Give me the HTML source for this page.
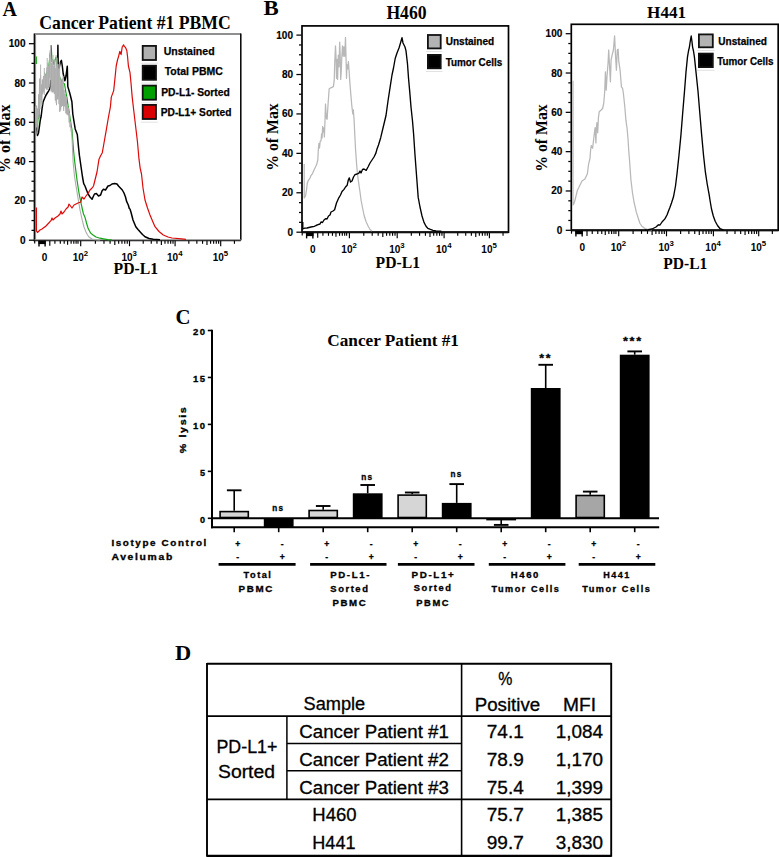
<!DOCTYPE html>
<html><head><meta charset="utf-8"><style>
html,body{margin:0;padding:0;background:#fff;width:779px;height:857px;overflow:hidden}
svg{display:block}
</style></head><body>
<svg width="779" height="857" viewBox="0 0 779 857">
<rect width="779" height="857" fill="#fff"/>
<line x1="34.5" y1="34.1" x2="240.8" y2="34.1" stroke="#6a6a6a" stroke-width="1.5"/>
<line x1="240.8" y1="33.4" x2="240.8" y2="240.2" stroke="#000" stroke-width="1.5"/>
<line x1="35.5" y1="34.1" x2="35.5" y2="240.2" stroke="#8a8a8a" stroke-width="1.2"/>
<line x1="34.3" y1="33.4" x2="34.3" y2="241.2" stroke="#000" stroke-width="1.3"/>
<line x1="34.5" y1="240.0" x2="240.8" y2="240.0" stroke="#8a8a8a" stroke-width="1.3"/>
<line x1="33.7" y1="240.79999999999998" x2="240.8" y2="240.79999999999998" stroke="#111" stroke-width="1.1"/>
<line x1="28.9" y1="240.2" x2="34.0" y2="240.2" stroke="#000" stroke-width="1.25"/>
<text x="25.5" y="243.7" style="font-family:'Liberation Sans',sans-serif;font-weight:bold;font-size:10.0px" text-anchor="end" fill="#000" stroke="#000" stroke-width="0.15">0</text>
<line x1="31.499999999999996" y1="230.375" x2="34.0" y2="230.375" stroke="#000" stroke-width="1.25"/>
<line x1="31.499999999999996" y1="220.54999999999998" x2="34.0" y2="220.54999999999998" stroke="#000" stroke-width="1.25"/>
<line x1="31.499999999999996" y1="210.725" x2="34.0" y2="210.725" stroke="#000" stroke-width="1.25"/>
<line x1="28.9" y1="200.89999999999998" x2="34.0" y2="200.89999999999998" stroke="#000" stroke-width="1.25"/>
<text x="25.5" y="204.39999999999998" style="font-family:'Liberation Sans',sans-serif;font-weight:bold;font-size:10.0px" text-anchor="end" fill="#000" stroke="#000" stroke-width="0.15">20</text>
<line x1="31.499999999999996" y1="191.075" x2="34.0" y2="191.075" stroke="#000" stroke-width="1.25"/>
<line x1="31.499999999999996" y1="181.25" x2="34.0" y2="181.25" stroke="#000" stroke-width="1.25"/>
<line x1="31.499999999999996" y1="171.42499999999998" x2="34.0" y2="171.42499999999998" stroke="#000" stroke-width="1.25"/>
<line x1="28.9" y1="161.59999999999997" x2="34.0" y2="161.59999999999997" stroke="#000" stroke-width="1.25"/>
<text x="25.5" y="165.09999999999997" style="font-family:'Liberation Sans',sans-serif;font-weight:bold;font-size:10.0px" text-anchor="end" fill="#000" stroke="#000" stroke-width="0.15">40</text>
<line x1="31.499999999999996" y1="151.77499999999998" x2="34.0" y2="151.77499999999998" stroke="#000" stroke-width="1.25"/>
<line x1="31.499999999999996" y1="141.95" x2="34.0" y2="141.95" stroke="#000" stroke-width="1.25"/>
<line x1="31.499999999999996" y1="132.125" x2="34.0" y2="132.125" stroke="#000" stroke-width="1.25"/>
<line x1="28.9" y1="122.29999999999998" x2="34.0" y2="122.29999999999998" stroke="#000" stroke-width="1.25"/>
<text x="25.5" y="125.79999999999998" style="font-family:'Liberation Sans',sans-serif;font-weight:bold;font-size:10.0px" text-anchor="end" fill="#000" stroke="#000" stroke-width="0.15">60</text>
<line x1="31.499999999999996" y1="112.47499999999998" x2="34.0" y2="112.47499999999998" stroke="#000" stroke-width="1.25"/>
<line x1="31.499999999999996" y1="102.64999999999998" x2="34.0" y2="102.64999999999998" stroke="#000" stroke-width="1.25"/>
<line x1="31.499999999999996" y1="92.82499999999999" x2="34.0" y2="92.82499999999999" stroke="#000" stroke-width="1.25"/>
<line x1="28.9" y1="82.99999999999997" x2="34.0" y2="82.99999999999997" stroke="#000" stroke-width="1.25"/>
<text x="25.5" y="86.49999999999997" style="font-family:'Liberation Sans',sans-serif;font-weight:bold;font-size:10.0px" text-anchor="end" fill="#000" stroke="#000" stroke-width="0.15">80</text>
<line x1="31.499999999999996" y1="73.17499999999998" x2="34.0" y2="73.17499999999998" stroke="#000" stroke-width="1.25"/>
<line x1="31.499999999999996" y1="63.349999999999994" x2="34.0" y2="63.349999999999994" stroke="#000" stroke-width="1.25"/>
<line x1="31.499999999999996" y1="53.52499999999998" x2="34.0" y2="53.52499999999998" stroke="#000" stroke-width="1.25"/>
<line x1="28.9" y1="43.69999999999999" x2="34.0" y2="43.69999999999999" stroke="#000" stroke-width="1.25"/>
<text x="25.5" y="47.19999999999999" style="font-family:'Liberation Sans',sans-serif;font-weight:bold;font-size:10.0px" text-anchor="end" fill="#000" stroke="#000" stroke-width="0.15">100</text>
<line x1="34.7" y1="240.7" x2="34.7" y2="243.6" stroke="#000" stroke-width="1.15"/>
<line x1="49.8" y1="240.7" x2="49.8" y2="245.79999999999998" stroke="#000" stroke-width="1.15"/>
<line x1="54.9" y1="240.7" x2="54.9" y2="243.79999999999998" stroke="#000" stroke-width="1.15"/>
<line x1="60.3" y1="240.7" x2="60.3" y2="243.79999999999998" stroke="#000" stroke-width="1.15"/>
<line x1="64.2" y1="240.7" x2="64.2" y2="243.79999999999998" stroke="#000" stroke-width="1.15"/>
<line x1="67.6" y1="240.7" x2="67.6" y2="244.79999999999998" stroke="#000" stroke-width="1.15"/>
<line x1="71.1" y1="240.7" x2="71.1" y2="243.79999999999998" stroke="#000" stroke-width="1.15"/>
<line x1="73.8" y1="240.7" x2="73.8" y2="243.79999999999998" stroke="#000" stroke-width="1.15"/>
<line x1="76.1" y1="240.7" x2="76.1" y2="243.79999999999998" stroke="#000" stroke-width="1.15"/>
<line x1="78.0" y1="240.7" x2="78.0" y2="243.79999999999998" stroke="#000" stroke-width="1.15"/>
<line x1="80.7" y1="240.7" x2="80.7" y2="246.2" stroke="#000" stroke-width="1.15"/>
<line x1="95.39026378840228" y1="240.7" x2="95.39026378840228" y2="243.79999999999998" stroke="#000" stroke-width="1.15"/>
<line x1="103.98351723031953" y1="240.7" x2="103.98351723031953" y2="243.79999999999998" stroke="#000" stroke-width="1.15"/>
<line x1="110.08052757680457" y1="240.7" x2="110.08052757680457" y2="243.79999999999998" stroke="#000" stroke-width="1.15"/>
<line x1="114.80973621159772" y1="240.7" x2="114.80973621159772" y2="245.0" stroke="#000" stroke-width="1.15"/>
<line x1="118.67378101872181" y1="240.7" x2="118.67378101872181" y2="243.79999999999998" stroke="#000" stroke-width="1.15"/>
<line x1="121.94078435269573" y1="240.7" x2="121.94078435269573" y2="243.79999999999998" stroke="#000" stroke-width="1.15"/>
<line x1="124.77079136520685" y1="240.7" x2="124.77079136520685" y2="243.79999999999998" stroke="#000" stroke-width="1.15"/>
<line x1="127.26703446063905" y1="240.7" x2="127.26703446063905" y2="243.79999999999998" stroke="#000" stroke-width="1.15"/>
<line x1="129.5" y1="240.7" x2="129.5" y2="246.2" stroke="#000" stroke-width="1.15"/>
<line x1="143.22696780227756" y1="240.7" x2="143.22696780227756" y2="243.79999999999998" stroke="#000" stroke-width="1.15"/>
<line x1="151.2567292152166" y1="240.7" x2="151.2567292152166" y2="243.79999999999998" stroke="#000" stroke-width="1.15"/>
<line x1="156.95393560455508" y1="240.7" x2="156.95393560455508" y2="243.79999999999998" stroke="#000" stroke-width="1.15"/>
<line x1="161.37303219772247" y1="240.7" x2="161.37303219772247" y2="245.0" stroke="#000" stroke-width="1.15"/>
<line x1="164.98369701749414" y1="240.7" x2="164.98369701749414" y2="243.79999999999998" stroke="#000" stroke-width="1.15"/>
<line x1="168.03647062465012" y1="240.7" x2="168.03647062465012" y2="243.79999999999998" stroke="#000" stroke-width="1.15"/>
<line x1="170.6809034068326" y1="240.7" x2="170.6809034068326" y2="243.79999999999998" stroke="#000" stroke-width="1.15"/>
<line x1="173.01345843043322" y1="240.7" x2="173.01345843043322" y2="243.79999999999998" stroke="#000" stroke-width="1.15"/>
<line x1="175.1" y1="240.7" x2="175.1" y2="246.2" stroke="#000" stroke-width="1.15"/>
<line x1="188.82696780227752" y1="240.7" x2="188.82696780227752" y2="243.79999999999998" stroke="#000" stroke-width="1.15"/>
<line x1="196.8567292152166" y1="240.7" x2="196.8567292152166" y2="243.79999999999998" stroke="#000" stroke-width="1.15"/>
<line x1="202.55393560455508" y1="240.7" x2="202.55393560455508" y2="243.79999999999998" stroke="#000" stroke-width="1.15"/>
<line x1="206.97303219772246" y1="240.7" x2="206.97303219772246" y2="245.0" stroke="#000" stroke-width="1.15"/>
<line x1="210.58369701749413" y1="240.7" x2="210.58369701749413" y2="243.79999999999998" stroke="#000" stroke-width="1.15"/>
<line x1="213.6364706246501" y1="240.7" x2="213.6364706246501" y2="243.79999999999998" stroke="#000" stroke-width="1.15"/>
<line x1="216.2809034068326" y1="240.7" x2="216.2809034068326" y2="243.79999999999998" stroke="#000" stroke-width="1.15"/>
<line x1="218.6134584304332" y1="240.7" x2="218.6134584304332" y2="243.79999999999998" stroke="#000" stroke-width="1.15"/>
<line x1="220.7" y1="240.7" x2="220.7" y2="246.2" stroke="#000" stroke-width="1.15"/>
<line x1="234.42696780227752" y1="240.7" x2="234.42696780227752" y2="243.79999999999998" stroke="#000" stroke-width="1.15"/>
<rect x="38.5" y="240.7" width="7.2" height="3.4" fill="#000"/>
<line x1="39.0" y1="240.7" x2="39.0" y2="246.39999999999998" stroke="#000" stroke-width="1.4"/>
<line x1="45.1" y1="240.7" x2="45.1" y2="246.39999999999998" stroke="#000" stroke-width="1.4"/>
<text x="44.5" y="260.59999999999997" style="font-family:'Liberation Sans',sans-serif;font-weight:bold;font-size:10px" text-anchor="middle" fill="#000" >0</text>
<text x="80.4" y="260.59999999999997" style="font-family:'Liberation Sans',sans-serif;font-weight:bold;font-size:10px" text-anchor="middle">10<tspan dy="-4.6" style="font-size:7.8px">2</tspan></text>
<text x="129.2" y="260.59999999999997" style="font-family:'Liberation Sans',sans-serif;font-weight:bold;font-size:10px" text-anchor="middle">10<tspan dy="-4.6" style="font-size:7.8px">3</tspan></text>
<text x="174.79999999999998" y="260.59999999999997" style="font-family:'Liberation Sans',sans-serif;font-weight:bold;font-size:10px" text-anchor="middle">10<tspan dy="-4.6" style="font-size:7.8px">4</tspan></text>
<text x="220.39999999999998" y="260.59999999999997" style="font-family:'Liberation Sans',sans-serif;font-weight:bold;font-size:10px" text-anchor="middle">10<tspan dy="-4.6" style="font-size:7.8px">5</tspan></text>
<text x="2.5" y="15.6" style="font-family:'Liberation Serif',serif;font-weight:bold;font-size:20px" text-anchor="start" fill="#000" >A</text>
<text x="39.3" y="28.9" style="font-family:'Liberation Serif',serif;font-weight:bold;font-size:17.8px" text-anchor="start" textLength="191.5" lengthAdjust="spacingAndGlyphs" fill="#000" >Cancer Patient #1 PBMC</text>
<text x="10.2" y="138.8" style="font-family:'Liberation Serif',serif;font-weight:bold;font-size:16px" text-anchor="middle" textLength="68.5" lengthAdjust="spacingAndGlyphs" fill="#000" transform="rotate(-90 10.2 138.8)">% of Max</text>
<text x="135.9" y="274.2" style="font-family:'Liberation Serif',serif;font-weight:bold;font-size:15.8px" text-anchor="middle" textLength="44.6" lengthAdjust="spacingAndGlyphs" fill="#000" >PD-L1</text>
<rect x="302.0" y="25.9" width="206.5" height="206.29999999999998" fill="none" stroke="#000" stroke-width="1.7"/>
<line x1="302.0" y1="232.2" x2="508.5" y2="232.2" stroke="#111" stroke-width="1.9"/>
<line x1="296.4" y1="232.2" x2="301.5" y2="232.2" stroke="#000" stroke-width="1.25"/>
<text x="293.0" y="235.7" style="font-family:'Liberation Sans',sans-serif;font-weight:bold;font-size:10.0px" text-anchor="end" fill="#000" stroke="#000" stroke-width="0.15">0</text>
<line x1="299.0" y1="222.345" x2="301.5" y2="222.345" stroke="#000" stroke-width="1.25"/>
<line x1="299.0" y1="212.48999999999998" x2="301.5" y2="212.48999999999998" stroke="#000" stroke-width="1.25"/>
<line x1="299.0" y1="202.635" x2="301.5" y2="202.635" stroke="#000" stroke-width="1.25"/>
<line x1="296.4" y1="192.78" x2="301.5" y2="192.78" stroke="#000" stroke-width="1.25"/>
<text x="293.0" y="196.28" style="font-family:'Liberation Sans',sans-serif;font-weight:bold;font-size:10.0px" text-anchor="end" fill="#000" stroke="#000" stroke-width="0.15">20</text>
<line x1="299.0" y1="182.92499999999998" x2="301.5" y2="182.92499999999998" stroke="#000" stroke-width="1.25"/>
<line x1="299.0" y1="173.07" x2="301.5" y2="173.07" stroke="#000" stroke-width="1.25"/>
<line x1="299.0" y1="163.21499999999997" x2="301.5" y2="163.21499999999997" stroke="#000" stroke-width="1.25"/>
<line x1="296.4" y1="153.36" x2="301.5" y2="153.36" stroke="#000" stroke-width="1.25"/>
<text x="293.0" y="156.86" style="font-family:'Liberation Sans',sans-serif;font-weight:bold;font-size:10.0px" text-anchor="end" fill="#000" stroke="#000" stroke-width="0.15">40</text>
<line x1="299.0" y1="143.505" x2="301.5" y2="143.505" stroke="#000" stroke-width="1.25"/>
<line x1="299.0" y1="133.64999999999998" x2="301.5" y2="133.64999999999998" stroke="#000" stroke-width="1.25"/>
<line x1="299.0" y1="123.795" x2="301.5" y2="123.795" stroke="#000" stroke-width="1.25"/>
<line x1="296.4" y1="113.94" x2="301.5" y2="113.94" stroke="#000" stroke-width="1.25"/>
<text x="293.0" y="117.44" style="font-family:'Liberation Sans',sans-serif;font-weight:bold;font-size:10.0px" text-anchor="end" fill="#000" stroke="#000" stroke-width="0.15">60</text>
<line x1="299.0" y1="104.08500000000001" x2="301.5" y2="104.08500000000001" stroke="#000" stroke-width="1.25"/>
<line x1="299.0" y1="94.22999999999999" x2="301.5" y2="94.22999999999999" stroke="#000" stroke-width="1.25"/>
<line x1="299.0" y1="84.375" x2="301.5" y2="84.375" stroke="#000" stroke-width="1.25"/>
<line x1="296.4" y1="74.52000000000001" x2="301.5" y2="74.52000000000001" stroke="#000" stroke-width="1.25"/>
<text x="293.0" y="78.02000000000001" style="font-family:'Liberation Sans',sans-serif;font-weight:bold;font-size:10.0px" text-anchor="end" fill="#000" stroke="#000" stroke-width="0.15">80</text>
<line x1="299.0" y1="64.66499999999999" x2="301.5" y2="64.66499999999999" stroke="#000" stroke-width="1.25"/>
<line x1="299.0" y1="54.81" x2="301.5" y2="54.81" stroke="#000" stroke-width="1.25"/>
<line x1="299.0" y1="44.95500000000001" x2="301.5" y2="44.95500000000001" stroke="#000" stroke-width="1.25"/>
<line x1="296.4" y1="35.099999999999994" x2="301.5" y2="35.099999999999994" stroke="#000" stroke-width="1.25"/>
<text x="293.0" y="38.599999999999994" style="font-family:'Liberation Sans',sans-serif;font-weight:bold;font-size:10.0px" text-anchor="end" fill="#000" stroke="#000" stroke-width="0.15">100</text>
<line x1="302.2" y1="232.7" x2="302.2" y2="235.6" stroke="#000" stroke-width="1.15"/>
<line x1="317.6974025974026" y1="232.7" x2="317.6974025974026" y2="237.79999999999998" stroke="#000" stroke-width="1.15"/>
<line x1="322.92987012987015" y1="232.7" x2="322.92987012987015" y2="235.79999999999998" stroke="#000" stroke-width="1.15"/>
<line x1="328.4701298701299" y1="232.7" x2="328.4701298701299" y2="235.79999999999998" stroke="#000" stroke-width="1.15"/>
<line x1="332.4714285714286" y1="232.7" x2="332.4714285714286" y2="235.79999999999998" stroke="#000" stroke-width="1.15"/>
<line x1="335.9597402597403" y1="232.7" x2="335.9597402597403" y2="236.79999999999998" stroke="#000" stroke-width="1.15"/>
<line x1="339.55064935064934" y1="232.7" x2="339.55064935064934" y2="235.79999999999998" stroke="#000" stroke-width="1.15"/>
<line x1="342.32077922077923" y1="232.7" x2="342.32077922077923" y2="235.79999999999998" stroke="#000" stroke-width="1.15"/>
<line x1="344.6805194805195" y1="232.7" x2="344.6805194805195" y2="235.79999999999998" stroke="#000" stroke-width="1.15"/>
<line x1="346.62987012987014" y1="232.7" x2="346.62987012987014" y2="235.79999999999998" stroke="#000" stroke-width="1.15"/>
<line x1="349.4" y1="232.7" x2="349.4" y2="238.2" stroke="#000" stroke-width="1.15"/>
<line x1="363.7892337927383" y1="232.7" x2="363.7892337927383" y2="235.79999999999998" stroke="#000" stroke-width="1.15"/>
<line x1="372.2063959755999" y1="232.7" x2="372.2063959755999" y2="235.79999999999998" stroke="#000" stroke-width="1.15"/>
<line x1="378.1784675854766" y1="232.7" x2="378.1784675854766" y2="235.79999999999998" stroke="#000" stroke-width="1.15"/>
<line x1="382.81076620726174" y1="232.7" x2="382.81076620726174" y2="237.0" stroke="#000" stroke-width="1.15"/>
<line x1="386.5956297683382" y1="232.7" x2="386.5956297683382" y2="235.79999999999998" stroke="#000" stroke-width="1.15"/>
<line x1="389.7956863126815" y1="232.7" x2="389.7956863126815" y2="235.79999999999998" stroke="#000" stroke-width="1.15"/>
<line x1="392.5677013782149" y1="232.7" x2="392.5677013782149" y2="235.79999999999998" stroke="#000" stroke-width="1.15"/>
<line x1="395.01279195119974" y1="232.7" x2="395.01279195119974" y2="235.79999999999998" stroke="#000" stroke-width="1.15"/>
<line x1="397.2" y1="232.7" x2="397.2" y2="238.2" stroke="#000" stroke-width="1.15"/>
<line x1="411.31830679664074" y1="232.7" x2="411.31830679664074" y2="235.79999999999998" stroke="#000" stroke-width="1.15"/>
<line x1="419.57698684635216" y1="232.7" x2="419.57698684635216" y2="235.79999999999998" stroke="#000" stroke-width="1.15"/>
<line x1="425.43661359328144" y1="232.7" x2="425.43661359328144" y2="235.79999999999998" stroke="#000" stroke-width="1.15"/>
<line x1="429.98169320335927" y1="232.7" x2="429.98169320335927" y2="237.0" stroke="#000" stroke-width="1.15"/>
<line x1="433.69529364299285" y1="232.7" x2="433.69529364299285" y2="235.79999999999998" stroke="#000" stroke-width="1.15"/>
<line x1="436.83509807666866" y1="232.7" x2="436.83509807666866" y2="235.79999999999998" stroke="#000" stroke-width="1.15"/>
<line x1="439.55492038992213" y1="232.7" x2="439.55492038992213" y2="235.79999999999998" stroke="#000" stroke-width="1.15"/>
<line x1="441.9539736927043" y1="232.7" x2="441.9539736927043" y2="235.79999999999998" stroke="#000" stroke-width="1.15"/>
<line x1="444.1" y1="232.7" x2="444.1" y2="238.2" stroke="#000" stroke-width="1.15"/>
<line x1="457.73665880357834" y1="232.7" x2="457.73665880357834" y2="235.79999999999998" stroke="#000" stroke-width="1.15"/>
<line x1="465.7135928388007" y1="232.7" x2="465.7135928388007" y2="235.79999999999998" stroke="#000" stroke-width="1.15"/>
<line x1="471.3733176071567" y1="232.7" x2="471.3733176071567" y2="235.79999999999998" stroke="#000" stroke-width="1.15"/>
<line x1="475.76334119642166" y1="232.7" x2="475.76334119642166" y2="237.0" stroke="#000" stroke-width="1.15"/>
<line x1="479.350251642379" y1="232.7" x2="479.350251642379" y2="235.79999999999998" stroke="#000" stroke-width="1.15"/>
<line x1="482.38294121264585" y1="232.7" x2="482.38294121264585" y2="235.79999999999998" stroke="#000" stroke-width="1.15"/>
<line x1="485.009976410735" y1="232.7" x2="485.009976410735" y2="235.79999999999998" stroke="#000" stroke-width="1.15"/>
<line x1="487.3271856776014" y1="232.7" x2="487.3271856776014" y2="235.79999999999998" stroke="#000" stroke-width="1.15"/>
<line x1="489.4" y1="232.7" x2="489.4" y2="238.2" stroke="#000" stroke-width="1.15"/>
<line x1="503.03665880357835" y1="232.7" x2="503.03665880357835" y2="235.79999999999998" stroke="#000" stroke-width="1.15"/>
<rect x="306.1038961038961" y="232.7" width="7.387012987012987" height="3.4" fill="#000"/>
<line x1="306.6168831168831" y1="232.7" x2="306.6168831168831" y2="238.39999999999998" stroke="#000" stroke-width="1.4"/>
<line x1="312.8753246753247" y1="232.7" x2="312.8753246753247" y2="238.39999999999998" stroke="#000" stroke-width="1.4"/>
<text x="312.8597402597403" y="252.6" style="font-family:'Liberation Sans',sans-serif;font-weight:bold;font-size:10px" text-anchor="middle" fill="#000" >0</text>
<text x="349.09999999999997" y="252.6" style="font-family:'Liberation Sans',sans-serif;font-weight:bold;font-size:10px" text-anchor="middle">10<tspan dy="-4.6" style="font-size:7.8px">2</tspan></text>
<text x="396.9" y="252.6" style="font-family:'Liberation Sans',sans-serif;font-weight:bold;font-size:10px" text-anchor="middle">10<tspan dy="-4.6" style="font-size:7.8px">3</tspan></text>
<text x="443.8" y="252.6" style="font-family:'Liberation Sans',sans-serif;font-weight:bold;font-size:10px" text-anchor="middle">10<tspan dy="-4.6" style="font-size:7.8px">4</tspan></text>
<text x="489.09999999999997" y="252.6" style="font-family:'Liberation Sans',sans-serif;font-weight:bold;font-size:10px" text-anchor="middle">10<tspan dy="-4.6" style="font-size:7.8px">5</tspan></text>
<text x="263.5" y="15.4" style="font-family:'Liberation Serif',serif;font-weight:bold;font-size:20.5px" text-anchor="start" textLength="15.2" lengthAdjust="spacingAndGlyphs" fill="#000" >B</text>
<text x="406.5" y="18.9" style="font-family:'Liberation Serif',serif;font-weight:bold;font-size:18.5px" text-anchor="middle" textLength="40.2" lengthAdjust="spacingAndGlyphs" fill="#000" >H460</text>
<text x="277.7" y="137" style="font-family:'Liberation Serif',serif;font-weight:bold;font-size:16.5px" text-anchor="middle" textLength="67.5" lengthAdjust="spacingAndGlyphs" fill="#000" transform="rotate(-90 277.7 137)">% of Max</text>
<text x="397.8" y="267.8" style="font-family:'Liberation Serif',serif;font-weight:bold;font-size:16.2px" text-anchor="middle" textLength="44.4" lengthAdjust="spacingAndGlyphs" fill="#000" >PD-L1</text>
<rect x="571.3" y="24.3" width="206.9000000000001" height="206.0" fill="none" stroke="#000" stroke-width="1.7"/>
<line x1="571.3" y1="230.3" x2="778.2" y2="230.3" stroke="#111" stroke-width="1.9"/>
<line x1="565.7" y1="230.3" x2="570.8" y2="230.3" stroke="#000" stroke-width="1.25"/>
<text x="562.3" y="233.8" style="font-family:'Liberation Sans',sans-serif;font-weight:bold;font-size:10.0px" text-anchor="end" fill="#000" stroke="#000" stroke-width="0.15">0</text>
<line x1="568.3" y1="220.47" x2="570.8" y2="220.47" stroke="#000" stroke-width="1.25"/>
<line x1="568.3" y1="210.64000000000001" x2="570.8" y2="210.64000000000001" stroke="#000" stroke-width="1.25"/>
<line x1="568.3" y1="200.81" x2="570.8" y2="200.81" stroke="#000" stroke-width="1.25"/>
<line x1="565.7" y1="190.98000000000002" x2="570.8" y2="190.98000000000002" stroke="#000" stroke-width="1.25"/>
<text x="562.3" y="194.48000000000002" style="font-family:'Liberation Sans',sans-serif;font-weight:bold;font-size:10.0px" text-anchor="end" fill="#000" stroke="#000" stroke-width="0.15">20</text>
<line x1="568.3" y1="181.15" x2="570.8" y2="181.15" stroke="#000" stroke-width="1.25"/>
<line x1="568.3" y1="171.32" x2="570.8" y2="171.32" stroke="#000" stroke-width="1.25"/>
<line x1="568.3" y1="161.49" x2="570.8" y2="161.49" stroke="#000" stroke-width="1.25"/>
<line x1="565.7" y1="151.66" x2="570.8" y2="151.66" stroke="#000" stroke-width="1.25"/>
<text x="562.3" y="155.16" style="font-family:'Liberation Sans',sans-serif;font-weight:bold;font-size:10.0px" text-anchor="end" fill="#000" stroke="#000" stroke-width="0.15">40</text>
<line x1="568.3" y1="141.82999999999998" x2="570.8" y2="141.82999999999998" stroke="#000" stroke-width="1.25"/>
<line x1="568.3" y1="132.0" x2="570.8" y2="132.0" stroke="#000" stroke-width="1.25"/>
<line x1="568.3" y1="122.17" x2="570.8" y2="122.17" stroke="#000" stroke-width="1.25"/>
<line x1="565.7" y1="112.34" x2="570.8" y2="112.34" stroke="#000" stroke-width="1.25"/>
<text x="562.3" y="115.84" style="font-family:'Liberation Sans',sans-serif;font-weight:bold;font-size:10.0px" text-anchor="end" fill="#000" stroke="#000" stroke-width="0.15">60</text>
<line x1="568.3" y1="102.51" x2="570.8" y2="102.51" stroke="#000" stroke-width="1.25"/>
<line x1="568.3" y1="92.68" x2="570.8" y2="92.68" stroke="#000" stroke-width="1.25"/>
<line x1="568.3" y1="82.85" x2="570.8" y2="82.85" stroke="#000" stroke-width="1.25"/>
<line x1="565.7" y1="73.01999999999998" x2="570.8" y2="73.01999999999998" stroke="#000" stroke-width="1.25"/>
<text x="562.3" y="76.51999999999998" style="font-family:'Liberation Sans',sans-serif;font-weight:bold;font-size:10.0px" text-anchor="end" fill="#000" stroke="#000" stroke-width="0.15">80</text>
<line x1="568.3" y1="63.19" x2="570.8" y2="63.19" stroke="#000" stroke-width="1.25"/>
<line x1="568.3" y1="53.359999999999985" x2="570.8" y2="53.359999999999985" stroke="#000" stroke-width="1.25"/>
<line x1="568.3" y1="43.53" x2="570.8" y2="43.53" stroke="#000" stroke-width="1.25"/>
<line x1="565.7" y1="33.69999999999999" x2="570.8" y2="33.69999999999999" stroke="#000" stroke-width="1.25"/>
<text x="562.3" y="37.19999999999999" style="font-family:'Liberation Sans',sans-serif;font-weight:bold;font-size:10.0px" text-anchor="end" fill="#000" stroke="#000" stroke-width="0.15">100</text>
<line x1="571.5" y1="230.8" x2="571.5" y2="233.70000000000002" stroke="#000" stroke-width="1.15"/>
<line x1="586.9974025974026" y1="230.8" x2="586.9974025974026" y2="235.9" stroke="#000" stroke-width="1.15"/>
<line x1="592.22987012987" y1="230.8" x2="592.22987012987" y2="233.9" stroke="#000" stroke-width="1.15"/>
<line x1="597.7701298701298" y1="230.8" x2="597.7701298701298" y2="233.9" stroke="#000" stroke-width="1.15"/>
<line x1="601.7714285714285" y1="230.8" x2="601.7714285714285" y2="233.9" stroke="#000" stroke-width="1.15"/>
<line x1="605.2597402597402" y1="230.8" x2="605.2597402597402" y2="234.9" stroke="#000" stroke-width="1.15"/>
<line x1="608.8506493506493" y1="230.8" x2="608.8506493506493" y2="233.9" stroke="#000" stroke-width="1.15"/>
<line x1="611.6207792207791" y1="230.8" x2="611.6207792207791" y2="233.9" stroke="#000" stroke-width="1.15"/>
<line x1="613.9805194805194" y1="230.8" x2="613.9805194805194" y2="233.9" stroke="#000" stroke-width="1.15"/>
<line x1="615.9298701298701" y1="230.8" x2="615.9298701298701" y2="233.9" stroke="#000" stroke-width="1.15"/>
<line x1="618.6999999999999" y1="230.8" x2="618.6999999999999" y2="236.3" stroke="#000" stroke-width="1.15"/>
<line x1="633.0892337927382" y1="230.8" x2="633.0892337927382" y2="233.9" stroke="#000" stroke-width="1.15"/>
<line x1="641.5063959755998" y1="230.8" x2="641.5063959755998" y2="233.9" stroke="#000" stroke-width="1.15"/>
<line x1="647.4784675854766" y1="230.8" x2="647.4784675854766" y2="233.9" stroke="#000" stroke-width="1.15"/>
<line x1="652.1107662072617" y1="230.8" x2="652.1107662072617" y2="235.10000000000002" stroke="#000" stroke-width="1.15"/>
<line x1="655.8956297683382" y1="230.8" x2="655.8956297683382" y2="233.9" stroke="#000" stroke-width="1.15"/>
<line x1="659.0956863126814" y1="230.8" x2="659.0956863126814" y2="233.9" stroke="#000" stroke-width="1.15"/>
<line x1="661.8677013782149" y1="230.8" x2="661.8677013782149" y2="233.9" stroke="#000" stroke-width="1.15"/>
<line x1="664.3127919511996" y1="230.8" x2="664.3127919511996" y2="233.9" stroke="#000" stroke-width="1.15"/>
<line x1="666.5" y1="230.8" x2="666.5" y2="236.3" stroke="#000" stroke-width="1.15"/>
<line x1="680.6183067966407" y1="230.8" x2="680.6183067966407" y2="233.9" stroke="#000" stroke-width="1.15"/>
<line x1="688.8769868463521" y1="230.8" x2="688.8769868463521" y2="233.9" stroke="#000" stroke-width="1.15"/>
<line x1="694.7366135932814" y1="230.8" x2="694.7366135932814" y2="233.9" stroke="#000" stroke-width="1.15"/>
<line x1="699.2816932033593" y1="230.8" x2="699.2816932033593" y2="235.10000000000002" stroke="#000" stroke-width="1.15"/>
<line x1="702.9952936429928" y1="230.8" x2="702.9952936429928" y2="233.9" stroke="#000" stroke-width="1.15"/>
<line x1="706.1350980766686" y1="230.8" x2="706.1350980766686" y2="233.9" stroke="#000" stroke-width="1.15"/>
<line x1="708.8549203899221" y1="230.8" x2="708.8549203899221" y2="233.9" stroke="#000" stroke-width="1.15"/>
<line x1="711.2539736927042" y1="230.8" x2="711.2539736927042" y2="233.9" stroke="#000" stroke-width="1.15"/>
<line x1="713.4" y1="230.8" x2="713.4" y2="236.3" stroke="#000" stroke-width="1.15"/>
<line x1="727.0366588035783" y1="230.8" x2="727.0366588035783" y2="233.9" stroke="#000" stroke-width="1.15"/>
<line x1="735.0135928388006" y1="230.8" x2="735.0135928388006" y2="233.9" stroke="#000" stroke-width="1.15"/>
<line x1="740.6733176071566" y1="230.8" x2="740.6733176071566" y2="233.9" stroke="#000" stroke-width="1.15"/>
<line x1="745.0633411964216" y1="230.8" x2="745.0633411964216" y2="235.10000000000002" stroke="#000" stroke-width="1.15"/>
<line x1="748.650251642379" y1="230.8" x2="748.650251642379" y2="233.9" stroke="#000" stroke-width="1.15"/>
<line x1="751.6829412126458" y1="230.8" x2="751.6829412126458" y2="233.9" stroke="#000" stroke-width="1.15"/>
<line x1="754.309976410735" y1="230.8" x2="754.309976410735" y2="233.9" stroke="#000" stroke-width="1.15"/>
<line x1="756.6271856776013" y1="230.8" x2="756.6271856776013" y2="233.9" stroke="#000" stroke-width="1.15"/>
<line x1="758.6999999999999" y1="230.8" x2="758.6999999999999" y2="236.3" stroke="#000" stroke-width="1.15"/>
<line x1="772.3366588035783" y1="230.8" x2="772.3366588035783" y2="233.9" stroke="#000" stroke-width="1.15"/>
<rect x="575.403896103896" y="230.8" width="7.387012987012987" height="3.4" fill="#000"/>
<line x1="575.9168831168831" y1="230.8" x2="575.9168831168831" y2="236.5" stroke="#000" stroke-width="1.4"/>
<line x1="582.1753246753246" y1="230.8" x2="582.1753246753246" y2="236.5" stroke="#000" stroke-width="1.4"/>
<text x="582.1597402597403" y="250.70000000000002" style="font-family:'Liberation Sans',sans-serif;font-weight:bold;font-size:10px" text-anchor="middle" fill="#000" >0</text>
<text x="618.4" y="250.70000000000002" style="font-family:'Liberation Sans',sans-serif;font-weight:bold;font-size:10px" text-anchor="middle">10<tspan dy="-4.6" style="font-size:7.8px">2</tspan></text>
<text x="666.2" y="250.70000000000002" style="font-family:'Liberation Sans',sans-serif;font-weight:bold;font-size:10px" text-anchor="middle">10<tspan dy="-4.6" style="font-size:7.8px">3</tspan></text>
<text x="713.1" y="250.70000000000002" style="font-family:'Liberation Sans',sans-serif;font-weight:bold;font-size:10px" text-anchor="middle">10<tspan dy="-4.6" style="font-size:7.8px">4</tspan></text>
<text x="758.4" y="250.70000000000002" style="font-family:'Liberation Sans',sans-serif;font-weight:bold;font-size:10px" text-anchor="middle">10<tspan dy="-4.6" style="font-size:7.8px">5</tspan></text>
<text x="666.6" y="17.6" style="font-family:'Liberation Serif',serif;font-weight:bold;font-size:17.3px" text-anchor="middle" textLength="39" lengthAdjust="spacingAndGlyphs" fill="#000" >H441</text>
<text x="546.5" y="138" style="font-family:'Liberation Serif',serif;font-weight:bold;font-size:16.5px" text-anchor="middle" textLength="67.5" lengthAdjust="spacingAndGlyphs" fill="#000" transform="rotate(-90 546.5 138)">% of Max</text>
<text x="685.3" y="269.4" style="font-family:'Liberation Serif',serif;font-weight:bold;font-size:16.2px" text-anchor="middle" textLength="44.0" lengthAdjust="spacingAndGlyphs" fill="#000" >PD-L1</text>
<g fill="none" stroke-linejoin="round" stroke-linecap="butt">
<polyline points="36.3,110.0 36.3,122.0 36.8,130.0 37.5,128.0 38.3,112.0 39.0,118.0 39.8,98.0 41.0,92.0 42.5,84.0 44.0,80.0 45.5,76.0 47.0,72.0 48.4,70.0 49.5,60.0 50.5,50.0 51.2,45.5 52.0,62.0 53.0,60.0 54.0,65.0 55.0,60.0 56.1,57.0 57.0,66.0 58.0,70.0 59.0,75.0 60.0,78.0 61.0,80.0 62.0,82.0 63.0,83.0 64.5,84.0 66.0,93.0 67.0,98.0 68.0,105.4 69.0,111.0 70.0,118.0 71.0,124.0 72.0,130.0 72.7,140.0 73.5,150.0 74.5,160.0 76.0,172.0 77.0,180.0 78.0,186.5 79.0,193.0 80.0,198.0 81.0,203.0 82.3,209.0 83.5,214.0 85.1,217.6 86.5,223.0 88.0,228.0 89.5,231.0 90.7,233.1 93.0,235.0 96.0,237.0 100.0,238.2 103.4,238.8 108.0,239.6 112.0,240.0" fill="none" stroke="#14a514" stroke-width="1.2" stroke-linejoin="round" />
<polyline points="36.3,56.5 36.3,64.0" fill="none" stroke="#14a514" stroke-width="1.2" stroke-linejoin="round" />
<polyline points="36.5,124.5 37.5,135.6 38.5,133.0 39.5,126.0 40.3,120.0 41.2,116.0 42.0,109.0 43.1,102.0 44.5,98.5 45.9,95.4 47.3,93.0 48.7,90.8 49.8,88.5 50.3,86.0 51.1,77.4 52.0,78.0 53.5,77.0 55.0,77.0 56.5,76.0 57.5,78.5 57.9,45.2 58.3,72.0 59.5,66.0 60.5,62.0 61.4,60.4 62.3,66.0 63.2,73.8 64.9,80.8 66.0,76.0 67.3,66.2 67.8,86.6 69.0,90.5 70.2,94.8 71.9,101.8 72.8,114.0 73.8,120.4 75.2,128.9 77.3,134.5 78.5,147.0 79.4,155.4 80.5,163.0 81.5,170.0 82.5,177.0 83.7,183.7 85.0,186.0 86.5,190.0 87.9,193.6 90.0,197.0 92.1,199.2 93.5,196.0 94.5,194.0 96.4,193.6 98.5,196.0 100.6,195.0 102.0,191.0 103.4,189.3 105.5,190.0 108.0,186.0 110.0,185.5 112.0,184.0 114.7,183.4 117.0,184.0 118.5,186.0 120.4,188.0 122.3,190.0 124.0,193.0 125.5,197.0 126.7,201.7 128.3,205.0 129.3,208.5 130.0,209.0 131.2,213.0 133.0,220.0 135.8,226.7 138.0,229.5 140.0,231.7 142.5,234.5 145.0,236.7 149.0,238.5 153.3,239.2 160.0,239.8" fill="none" stroke="#000" stroke-width="1.5" stroke-linejoin="round" />
<polyline points="35.4,106.5 36.0,126.9 36.6,105.8 37.2,133.2 37.7,108.9 38.3,117.8 38.6,94.5 39.1,114.3 39.6,78.8 40.0,108.7 40.6,75.4 41.0,99.5 41.4,85.3 41.8,104.7 42.4,79.8 42.8,93.6 43.5,76.3 44.1,92.1 44.6,72.5 45.3,87.9 45.9,75.1 46.4,89.3 46.8,67.8 47.1,89.1 47.7,63.4 48.2,87.9 48.6,66.3 49.1,87.0 49.6,56.9 50.0,77.5 50.4,55.8 51.0,90.9 51.5,63.4 52.1,92.1 52.4,60.0 53.1,91.9 53.7,66.0 54.3,93.5 54.7,60.5 55.3,100.3 55.9,68.6 56.5,104.8 57.1,58.1 57.6,99.0 58.2,64.5 58.9,103.8 59.3,68.8 59.7,111.2 60.1,77.2 60.7,110.0 61.1,82.0 61.6,106.4 62.0,78.8 62.6,105.4 63.1,76.3 63.7,110.4 64.2,90.3 64.6,106.0 65.3,94.3 65.8,113.0 66.3,96.9 66.9,114.3 67.4,105.1 68.0,115.0 68.5,107.8 69.1,122.3 69.5,113.2 69.9,126.7 70.5,122.0 71.1,131.2 71.5,128.7 72.0,137.0 72.5,148.0 73.1,162.0 74.5,176.0 76.0,186.0 78.0,197.8 80.0,210.0 82.3,220.4 84.0,227.0 86.0,232.0 87.5,235.0 89.3,237.3 92.0,239.0 95.0,239.8 100.0,240.0" fill="none" stroke="#adadad" stroke-width="1.1" stroke-linejoin="round" />
<line x1="40.6" y1="64.5" x2="40.6" y2="100" stroke="#b4b4b4" stroke-width="1.0"/>
<line x1="50.5" y1="45.3" x2="50.5" y2="80" stroke="#b4b4b4" stroke-width="1.0"/>
<line x1="47.2" y1="58" x2="47.2" y2="90" stroke="#b4b4b4" stroke-width="1.0"/>
<line x1="53" y1="55" x2="53" y2="85" stroke="#b4b4b4" stroke-width="1.0"/>
<line x1="56.1" y1="55" x2="56.1" y2="103" stroke="#b4b4b4" stroke-width="1.0"/>
<line x1="59.7" y1="62" x2="59.7" y2="112" stroke="#b4b4b4" stroke-width="1.0"/>
<line x1="44.3" y1="68" x2="44.3" y2="95" stroke="#b4b4b4" stroke-width="1.0"/>
<polyline points="36.4,207.4 36.4,231.0 37.5,232.5 40.0,230.0 42.0,229.0 46.0,226.0 51.2,220.4 52.0,218.0 53.0,220.0 55.0,218.0 58.0,216.0 60.0,214.0 61.0,211.0 62.0,214.0 64.0,212.0 66.0,209.0 68.1,207.0 69.0,204.0 72.0,208.0 74.0,205.0 76.0,204.0 78.0,203.0 80.8,202.0 82.0,197.0 84.0,199.0 86.0,196.0 87.9,193.6 90.0,190.0 92.1,188.0 93.5,186.0 95.0,180.0 97.0,172.0 99.0,159.2 100.5,156.0 102.3,152.7 104.0,143.0 106.3,129.8 108.3,118.0 110.4,106.9 111.3,97.1 113.7,90.6 115.0,78.0 116.2,66.0 117.5,60.0 118.6,56.3 119.8,51.3 121.1,54.6 122.2,47.0 122.7,46.4 123.6,44.8 124.3,46.4 125.5,47.5 126.8,50.5 127.6,57.0 128.4,66.0 130.0,72.6 131.0,83.0 132.2,97.1 134.1,113.5 135.7,127.0 137.4,141.3 139.0,159.2 140.2,168.3 141.5,174.0 143.0,188.0 145.0,200.0 147.5,208.0 150.0,215.0 152.5,221.0 155.0,226.7 159.0,231.5 163.3,235.0 168.0,237.0 172.0,238.0 181.7,238.9 186.0,239.3" fill="none" stroke="#dd0a0a" stroke-width="1.2" stroke-linejoin="round" />
<polyline points="304.2,164.0 304.2,198.0 305.5,196.0 306.5,190.0 307.3,183.0 308.5,180.0 310.0,178.0 311.0,175.5 312.5,173.5 314.0,170.0 315.5,167.0 316.8,164.0 317.8,160.0 318.3,150.0 318.9,143.3 319.5,148.0 320.2,141.2 321.0,141.0 321.6,134.0 322.1,138.0 322.7,126.5 323.3,132.0 323.8,128.0 324.4,137.0 325.0,120.0 325.5,104.0 326.3,118.0 327.1,119.3 328.1,103.5 329.2,88.8 330.8,87.8 333.4,86.7 334.2,80.4 334.7,63.6 335.5,45.8 336.0,56.3 336.5,78.3 337.1,59.4 337.6,79.4 338.3,55.2 339.0,66.8 339.7,42.1 340.2,55.2 340.7,79.4 341.3,69.9 341.8,57.3 342.5,45.8 343.2,56.3 343.9,46.8 344.7,56.3 345.5,37.4 346.0,56.3 346.5,78.3 347.0,64.7 347.8,68.9 348.4,61.5 349.1,71.0 349.7,80.4 350.7,93.0 351.8,105.6 352.8,114.0 353.3,109.8 354.1,120.0 354.8,135.0 355.6,150.0 356.6,164.3 357.6,175.0 358.7,183.1 360.0,192.0 361.2,201.0 362.4,207.0 364.0,215.0 366.0,221.5 368.2,226.3 370.0,229.5 372.0,231.0" fill="none" stroke="#b8b8b8" stroke-width="1.25" stroke-linejoin="round" />
<polyline points="302.8,222.0 302.8,229.0 304.6,228.2 307.0,228.0 309.0,227.5 311.0,227.0 314.3,226.3 316.0,225.5 318.0,224.7 320.0,224.0 321.0,222.0 322.5,222.5 324.0,220.0 325.8,218.6 327.0,219.0 328.5,216.0 330.0,215.0 331.0,212.0 333.0,211.0 334.6,209.8 336.5,203.0 338.8,197.8 340.5,195.0 342.0,191.5 344.0,189.4 345.5,187.0 347.2,185.2 348.3,180.0 349.3,177.9 350.5,182.0 352.0,181.0 353.5,177.0 355.0,174.7 357.0,174.0 358.7,173.3 360.0,171.0 361.0,173.0 362.5,169.5 364.0,169.0 366.2,170.4 368.0,167.0 370.0,163.0 372.0,160.0 374.0,157.0 375.9,153.1 377.0,149.0 378.5,145.0 380.7,137.7 383.0,128.0 386.0,115.5 388.0,101.0 390.5,84.7 392.0,75.0 393.5,68.0 395.2,58.5 397.0,53.0 399.0,48.0 400.5,43.0 402.0,37.7 403.0,43.0 404.0,45.0 405.0,47.0 406.0,50.8 407.5,64.0 408.5,78.0 409.8,92.4 411.0,107.0 412.5,121.0 413.6,134.0 415.0,155.0 416.5,175.0 418.2,197.4 420.0,207.0 422.0,216.0 424.0,222.4 426.0,226.3 427.8,228.3 429.8,229.2 433.0,230.3 436.0,231.0 441.4,231.2" fill="none" stroke="#000" stroke-width="1.35" stroke-linejoin="round" />
<polyline points="573.0,80.8 573.0,205.0 573.6,204.2 574.5,202.0 576.0,196.0 577.5,190.0 578.7,187.7 580.5,184.0 582.0,181.0 584.9,179.0 587.4,173.8 588.2,167.0 588.7,163.6 590.0,158.5 590.6,150.0 591.3,145.6 592.6,148.2 593.8,138.0 594.5,132.0 595.1,127.7 595.9,143.0 596.4,128.0 596.9,122.6 597.7,132.8 598.4,118.0 599.2,111.8 600.9,110.2 602.6,108.5 603.7,103.5 604.7,91.8 605.4,71.8 606.2,90.1 607.1,75.1 608.1,62.6 608.7,50.0 609.7,68.4 610.4,81.8 611.1,60.1 612.1,55.1 613.4,50.0 614.6,35.9 615.4,53.4 616.4,70.1 617.3,50.0 618.1,49.2 618.8,61.7 620.1,70.1 621.4,86.8 622.6,88.4 623.4,93.5 624.8,106.8 625.9,120.2 627.1,128.5 628.1,140.0 628.7,150.0 629.5,160.0 630.9,179.5 632.5,193.0 634.0,202.0 636.4,212.4 638.5,219.0 640.0,223.5 641.9,226.2 645.0,228.5 648.0,229.5 652.0,230.0" fill="none" stroke="#b8b8b8" stroke-width="1.25" stroke-linejoin="round" />
<polyline points="645.0,230.0 648.0,229.7 652.0,229.0 656.0,227.0 658.4,224.8 660.0,225.0 662.0,222.0 664.9,218.9 667.0,215.0 668.5,211.0 669.8,207.8 671.5,203.0 673.5,196.8 675.5,186.0 677.2,172.2 679.0,155.0 680.9,135.4 682.7,113.0 684.5,91.3 686.0,72.0 687.5,56.9 688.5,51.0 689.4,47.1 690.3,41.0 691.2,36.0 691.9,41.0 692.6,47.1 693.5,51.0 694.4,56.9 696.2,74.0 698.0,91.3 699.8,113.0 701.7,135.4 703.5,155.0 705.4,172.2 707.2,184.0 709.1,194.3 710.3,202.0 711.5,209.0 713.3,216.0 715.2,221.3 717.5,225.5 720.1,228.7 723.8,230.2" fill="none" stroke="#000" stroke-width="1.35" stroke-linejoin="round" />
</g>
<rect x="142.70000000000002" y="45.9" width="13.299999999999999" height="14.1" fill="#b0b0b0" stroke="#111" stroke-width="1.8"/><line x1="140.8" y1="63.199999999999996" x2="157.9" y2="63.199999999999996" stroke="#e2e2e2" stroke-width="1.0"/>
<rect x="142.70000000000002" y="65.7" width="13.299999999999999" height="14.1" fill="#000" stroke="#111" stroke-width="1.8"/><line x1="140.8" y1="83.0" x2="157.9" y2="83.0" stroke="#e2e2e2" stroke-width="1.0"/>
<rect x="142.70000000000002" y="85.60000000000001" width="13.299999999999999" height="14.1" fill="#00a000" stroke="#111" stroke-width="1.8"/><line x1="140.8" y1="102.9" x2="157.9" y2="102.9" stroke="#e2e2e2" stroke-width="1.0"/>
<rect x="142.70000000000002" y="104.9" width="13.299999999999999" height="14.1" fill="#d80000" stroke="#111" stroke-width="1.8"/><line x1="140.8" y1="122.2" x2="157.9" y2="122.2" stroke="#e2e2e2" stroke-width="1.0"/>
<text x="163.7" y="54.9" style="font-family:'Liberation Sans',sans-serif;font-weight:bold;font-size:11px" text-anchor="start" textLength="50.9" lengthAdjust="spacingAndGlyphs" fill="#000" stroke="#000" stroke-width="0.25">Unstained</text>
<text x="164.7" y="75.0" style="font-family:'Liberation Sans',sans-serif;font-weight:bold;font-size:11px" text-anchor="start" textLength="58.1" lengthAdjust="spacingAndGlyphs" fill="#000" stroke="#000" stroke-width="0.25">Total PBMC</text>
<text x="161.2" y="96.0" style="font-family:'Liberation Sans',sans-serif;font-weight:bold;font-size:11px" text-anchor="start" textLength="68.6" lengthAdjust="spacingAndGlyphs" fill="#000" stroke="#000" stroke-width="0.25">PD-L1- Sorted</text>
<text x="160.8" y="115.5" style="font-family:'Liberation Sans',sans-serif;font-weight:bold;font-size:11px" text-anchor="start" textLength="70.6" lengthAdjust="spacingAndGlyphs" fill="#000" stroke="#000" stroke-width="0.25">PD-L1+ Sorted</text>
<rect x="427.9" y="35.0" width="12.799999999999999" height="13.399999999999999" fill="#b3b3b3" stroke="#111" stroke-width="1.8"/><line x1="426" y1="51.599999999999994" x2="442.6" y2="51.599999999999994" stroke="#e2e2e2" stroke-width="1.0"/>
<rect x="427.9" y="54.9" width="12.799999999999999" height="13.399999999999999" fill="#000" stroke="#111" stroke-width="1.8"/><line x1="426" y1="71.5" x2="442.6" y2="71.5" stroke="#e2e2e2" stroke-width="1.0"/>
<text x="445.7" y="44.8" style="font-family:'Liberation Sans',sans-serif;font-weight:bold;font-size:10.5px" text-anchor="start" textLength="48.5" lengthAdjust="spacingAndGlyphs" fill="#000" stroke="#000" stroke-width="0.25">Unstained</text>
<text x="445.7" y="66.0" style="font-family:'Liberation Sans',sans-serif;font-weight:bold;font-size:10.5px" text-anchor="start" textLength="56.5" lengthAdjust="spacingAndGlyphs" fill="#000" stroke="#000" stroke-width="0.25">Tumor Cells</text>
<rect x="698.9" y="34.4" width="13.899999999999999" height="12.899999999999999" fill="#b3b3b3" stroke="#111" stroke-width="1.8"/><line x1="697" y1="50.5" x2="714.7" y2="50.5" stroke="#e2e2e2" stroke-width="1.0"/>
<rect x="698.9" y="53.6" width="13.899999999999999" height="13.5" fill="#000" stroke="#111" stroke-width="1.8"/><line x1="697" y1="70.3" x2="714.7" y2="70.3" stroke="#e2e2e2" stroke-width="1.0"/>
<text x="718.3" y="45.1" style="font-family:'Liberation Sans',sans-serif;font-weight:bold;font-size:10.5px" text-anchor="start" textLength="48.7" lengthAdjust="spacingAndGlyphs" fill="#000" stroke="#000" stroke-width="0.25">Unstained</text>
<text x="717.2" y="65.0" style="font-family:'Liberation Sans',sans-serif;font-weight:bold;font-size:10.5px" text-anchor="start" textLength="56.3" lengthAdjust="spacingAndGlyphs" fill="#000" stroke="#000" stroke-width="0.25">Tumor Cells</text>
<text x="175.5" y="324" style="font-family:'Liberation Serif',serif;font-weight:bold;font-size:20.5px" text-anchor="start" textLength="15" lengthAdjust="spacingAndGlyphs" fill="#000" >C</text>
<text x="327.3" y="346.2" style="font-family:'Liberation Serif',serif;font-weight:bold;font-size:17.5px" text-anchor="start" textLength="131.7" lengthAdjust="spacingAndGlyphs" fill="#000" >Cancer Patient #1</text>
<text x="185.9" y="429.4" style="font-family:'Liberation Sans',sans-serif;font-weight:bold;letter-spacing:1.4px;font-size:9.2px" text-anchor="middle" textLength="47.5" lengthAdjust="spacingAndGlyphs" fill="#000" transform="rotate(-90 185.9 429.4)" stroke="#000" stroke-width="0.3">% lysis</text>
<line x1="212" y1="329.7" x2="212" y2="528.2" stroke="#000" stroke-width="2"/>
<line x1="207.8" y1="330.5" x2="212" y2="330.5" stroke="#000" stroke-width="1.6"/>
<text x="206.5" y="334.7" style="font-family:'Liberation Sans',sans-serif;font-weight:bold;letter-spacing:1.4px;font-size:8.8px" text-anchor="end" textLength="13.6" lengthAdjust="spacingAndGlyphs" fill="#000"  stroke="#000" stroke-width="0.3">20</text>
<line x1="207.8" y1="377.45" x2="212" y2="377.45" stroke="#000" stroke-width="1.6"/>
<text x="206.5" y="381.65" style="font-family:'Liberation Sans',sans-serif;font-weight:bold;letter-spacing:1.4px;font-size:8.8px" text-anchor="end" textLength="13.6" lengthAdjust="spacingAndGlyphs" fill="#000"  stroke="#000" stroke-width="0.3">15</text>
<line x1="207.8" y1="424.4" x2="212" y2="424.4" stroke="#000" stroke-width="1.6"/>
<text x="206.5" y="428.59999999999997" style="font-family:'Liberation Sans',sans-serif;font-weight:bold;letter-spacing:1.4px;font-size:8.8px" text-anchor="end" textLength="13.6" lengthAdjust="spacingAndGlyphs" fill="#000"  stroke="#000" stroke-width="0.3">10</text>
<line x1="207.8" y1="471.34999999999997" x2="212" y2="471.34999999999997" stroke="#000" stroke-width="1.6"/>
<text x="206.5" y="475.54999999999995" style="font-family:'Liberation Sans',sans-serif;font-weight:bold;letter-spacing:1.4px;font-size:8.8px" text-anchor="end" textLength="6.5" lengthAdjust="spacingAndGlyphs" fill="#000"  stroke="#000" stroke-width="0.3">5</text>
<line x1="207.8" y1="518.3" x2="212" y2="518.3" stroke="#000" stroke-width="1.6"/>
<text x="206.5" y="522.5" style="font-family:'Liberation Sans',sans-serif;font-weight:bold;letter-spacing:1.4px;font-size:8.8px" text-anchor="end" textLength="6.5" lengthAdjust="spacingAndGlyphs" fill="#000"  stroke="#000" stroke-width="0.3">0</text>
<line x1="234.2" y1="490.3" x2="234.2" y2="510.8" stroke="#000" stroke-width="1.6"/>
<line x1="226.89999999999998" y1="490.3" x2="241.5" y2="490.3" stroke="#000" stroke-width="1.9"/>
<rect x="220.1" y="511.6" width="28.2" height="5.8999999999999435" fill="#d6d6d6" stroke="#000" stroke-width="1.6"/>
<rect x="263.8" y="518.3" width="29.8" height="8.900000000000091" fill="#000"/>
<line x1="323.2" y1="506.0" x2="323.2" y2="509.7" stroke="#000" stroke-width="1.6"/>
<line x1="315.9" y1="506.0" x2="330.5" y2="506.0" stroke="#000" stroke-width="1.9"/>
<rect x="309.1" y="510.5" width="28.2" height="6.999999999999966" fill="#d6d6d6" stroke="#000" stroke-width="1.6"/>
<line x1="367.7" y1="485.0" x2="367.7" y2="493.3" stroke="#000" stroke-width="1.6"/>
<line x1="360.4" y1="485.0" x2="375.0" y2="485.0" stroke="#000" stroke-width="1.9"/>
<rect x="352.8" y="493.3" width="29.8" height="24.999999999999943" fill="#000"/>
<line x1="412.2" y1="492.5" x2="412.2" y2="494.3" stroke="#000" stroke-width="1.6"/>
<line x1="404.9" y1="492.5" x2="419.5" y2="492.5" stroke="#000" stroke-width="1.9"/>
<rect x="398.1" y="495.1" width="28.2" height="22.39999999999994" fill="#d6d6d6" stroke="#000" stroke-width="1.6"/>
<line x1="456.7" y1="484.1" x2="456.7" y2="502.9" stroke="#000" stroke-width="1.6"/>
<line x1="449.4" y1="484.1" x2="464.0" y2="484.1" stroke="#000" stroke-width="1.9"/>
<rect x="441.8" y="502.9" width="29.8" height="15.399999999999977" fill="#000"/>
<line x1="501.2" y1="524.9" x2="501.2" y2="520.0" stroke="#000" stroke-width="1.6"/>
<line x1="493.9" y1="524.9" x2="508.5" y2="524.9" stroke="#000" stroke-width="1.9"/>
<rect x="487.1" y="519.0999999999999" width="28.2" height="0.5" fill="#d6d6d6" stroke="#000" stroke-width="1.6"/>
<line x1="545.7" y1="364.8" x2="545.7" y2="388.0" stroke="#000" stroke-width="1.6"/>
<line x1="538.4000000000001" y1="364.8" x2="553.0" y2="364.8" stroke="#000" stroke-width="1.9"/>
<rect x="530.8000000000001" y="388.0" width="29.8" height="130.29999999999995" fill="#000"/>
<line x1="590.2" y1="491.6" x2="590.2" y2="494.7" stroke="#000" stroke-width="1.6"/>
<line x1="582.9000000000001" y1="491.6" x2="597.5" y2="491.6" stroke="#000" stroke-width="1.9"/>
<rect x="576.1" y="495.5" width="28.2" height="21.999999999999964" fill="#a6a6a6" stroke="#000" stroke-width="1.6"/>
<line x1="634.7" y1="351.4" x2="634.7" y2="354.7" stroke="#000" stroke-width="1.6"/>
<line x1="627.4000000000001" y1="351.4" x2="642.0" y2="351.4" stroke="#000" stroke-width="1.9"/>
<rect x="619.8000000000001" y="354.7" width="29.8" height="163.59999999999997" fill="#000"/>
<line x1="211" y1="518.3" x2="659" y2="518.3" stroke="#000" stroke-width="2"/>
<line x1="211" y1="527.2" x2="659.2" y2="527.2" stroke="#000" stroke-width="2"/>
<line x1="234.2" y1="527.2" x2="234.2" y2="532.2" stroke="#000" stroke-width="1.6"/>
<line x1="278.7" y1="527.2" x2="278.7" y2="532.2" stroke="#000" stroke-width="1.6"/>
<line x1="323.2" y1="527.2" x2="323.2" y2="532.2" stroke="#000" stroke-width="1.6"/>
<line x1="367.7" y1="527.2" x2="367.7" y2="532.2" stroke="#000" stroke-width="1.6"/>
<line x1="412.2" y1="527.2" x2="412.2" y2="532.2" stroke="#000" stroke-width="1.6"/>
<line x1="456.7" y1="527.2" x2="456.7" y2="532.2" stroke="#000" stroke-width="1.6"/>
<line x1="501.2" y1="527.2" x2="501.2" y2="532.2" stroke="#000" stroke-width="1.6"/>
<line x1="545.7" y1="527.2" x2="545.7" y2="532.2" stroke="#000" stroke-width="1.6"/>
<line x1="590.2" y1="527.2" x2="590.2" y2="532.2" stroke="#000" stroke-width="1.6"/>
<line x1="634.7" y1="527.2" x2="634.7" y2="532.2" stroke="#000" stroke-width="1.6"/>
<text x="278.4" y="511.0" style="font-family:'Liberation Sans',sans-serif;font-weight:bold;letter-spacing:1.4px;font-size:8.4px" text-anchor="middle" textLength="12.2" lengthAdjust="spacingAndGlyphs" fill="#000"  stroke="#000" stroke-width="0.3">ns</text>
<text x="367.4" y="480.0" style="font-family:'Liberation Sans',sans-serif;font-weight:bold;letter-spacing:1.4px;font-size:8.4px" text-anchor="middle" textLength="12.4" lengthAdjust="spacingAndGlyphs" fill="#000"  stroke="#000" stroke-width="0.3">ns</text>
<text x="456.6" y="477.1" style="font-family:'Liberation Sans',sans-serif;font-weight:bold;letter-spacing:1.4px;font-size:8.4px" text-anchor="middle" textLength="12.2" lengthAdjust="spacingAndGlyphs" fill="#000"  stroke="#000" stroke-width="0.3">ns</text>
<text x="545.8" y="361.6" style="font-family:'Liberation Sans',sans-serif;font-weight:bold;letter-spacing:1.4px;font-size:10px" text-anchor="middle" textLength="13.0" lengthAdjust="spacingAndGlyphs" fill="#000"  stroke="#000" stroke-width="0.3">**</text>
<text x="633.0" y="344.5" style="font-family:'Liberation Sans',sans-serif;font-weight:bold;letter-spacing:1.4px;font-size:10px" text-anchor="middle" textLength="20.2" lengthAdjust="spacingAndGlyphs" fill="#000"  stroke="#000" stroke-width="0.3">***</text>
<text x="111.4" y="545.6" style="font-family:'Liberation Sans',sans-serif;font-weight:bold;letter-spacing:1.4px;font-size:8.6px" text-anchor="start" textLength="96.5" lengthAdjust="spacingAndGlyphs" fill="#000"  stroke="#000" stroke-width="0.3">Isotype Control</text>
<text x="111.4" y="559.6" style="font-family:'Liberation Sans',sans-serif;font-weight:bold;letter-spacing:1.4px;font-size:8.6px" text-anchor="start" textLength="62.5" lengthAdjust="spacingAndGlyphs" fill="#000"  stroke="#000" stroke-width="0.3">Avelumab</text>
<text x="238.39999999999998" y="546.6" style="font-family:'Liberation Sans',sans-serif;font-weight:bold;letter-spacing:1.4px;font-size:8.6px" text-anchor="middle" fill="#000"  stroke="#000" stroke-width="0.3">+</text>
<text x="238.39999999999998" y="560.0" style="font-family:'Liberation Sans',sans-serif;font-weight:bold;letter-spacing:1.4px;font-size:8.6px" text-anchor="middle" fill="#000"  stroke="#000" stroke-width="0.3">-</text>
<text x="282.9" y="546.6" style="font-family:'Liberation Sans',sans-serif;font-weight:bold;letter-spacing:1.4px;font-size:8.6px" text-anchor="middle" fill="#000"  stroke="#000" stroke-width="0.3">-</text>
<text x="282.9" y="560.0" style="font-family:'Liberation Sans',sans-serif;font-weight:bold;letter-spacing:1.4px;font-size:8.6px" text-anchor="middle" fill="#000"  stroke="#000" stroke-width="0.3">+</text>
<text x="327.4" y="546.6" style="font-family:'Liberation Sans',sans-serif;font-weight:bold;letter-spacing:1.4px;font-size:8.6px" text-anchor="middle" fill="#000"  stroke="#000" stroke-width="0.3">+</text>
<text x="327.4" y="560.0" style="font-family:'Liberation Sans',sans-serif;font-weight:bold;letter-spacing:1.4px;font-size:8.6px" text-anchor="middle" fill="#000"  stroke="#000" stroke-width="0.3">-</text>
<text x="371.9" y="546.6" style="font-family:'Liberation Sans',sans-serif;font-weight:bold;letter-spacing:1.4px;font-size:8.6px" text-anchor="middle" fill="#000"  stroke="#000" stroke-width="0.3">-</text>
<text x="371.9" y="560.0" style="font-family:'Liberation Sans',sans-serif;font-weight:bold;letter-spacing:1.4px;font-size:8.6px" text-anchor="middle" fill="#000"  stroke="#000" stroke-width="0.3">+</text>
<text x="416.4" y="546.6" style="font-family:'Liberation Sans',sans-serif;font-weight:bold;letter-spacing:1.4px;font-size:8.6px" text-anchor="middle" fill="#000"  stroke="#000" stroke-width="0.3">+</text>
<text x="416.4" y="560.0" style="font-family:'Liberation Sans',sans-serif;font-weight:bold;letter-spacing:1.4px;font-size:8.6px" text-anchor="middle" fill="#000"  stroke="#000" stroke-width="0.3">-</text>
<text x="460.9" y="546.6" style="font-family:'Liberation Sans',sans-serif;font-weight:bold;letter-spacing:1.4px;font-size:8.6px" text-anchor="middle" fill="#000"  stroke="#000" stroke-width="0.3">-</text>
<text x="460.9" y="560.0" style="font-family:'Liberation Sans',sans-serif;font-weight:bold;letter-spacing:1.4px;font-size:8.6px" text-anchor="middle" fill="#000"  stroke="#000" stroke-width="0.3">+</text>
<text x="505.4" y="546.6" style="font-family:'Liberation Sans',sans-serif;font-weight:bold;letter-spacing:1.4px;font-size:8.6px" text-anchor="middle" fill="#000"  stroke="#000" stroke-width="0.3">+</text>
<text x="505.4" y="560.0" style="font-family:'Liberation Sans',sans-serif;font-weight:bold;letter-spacing:1.4px;font-size:8.6px" text-anchor="middle" fill="#000"  stroke="#000" stroke-width="0.3">-</text>
<text x="549.9000000000001" y="546.6" style="font-family:'Liberation Sans',sans-serif;font-weight:bold;letter-spacing:1.4px;font-size:8.6px" text-anchor="middle" fill="#000"  stroke="#000" stroke-width="0.3">-</text>
<text x="549.9000000000001" y="560.0" style="font-family:'Liberation Sans',sans-serif;font-weight:bold;letter-spacing:1.4px;font-size:8.6px" text-anchor="middle" fill="#000"  stroke="#000" stroke-width="0.3">+</text>
<text x="594.4000000000001" y="546.6" style="font-family:'Liberation Sans',sans-serif;font-weight:bold;letter-spacing:1.4px;font-size:8.6px" text-anchor="middle" fill="#000"  stroke="#000" stroke-width="0.3">+</text>
<text x="594.4000000000001" y="560.0" style="font-family:'Liberation Sans',sans-serif;font-weight:bold;letter-spacing:1.4px;font-size:8.6px" text-anchor="middle" fill="#000"  stroke="#000" stroke-width="0.3">-</text>
<text x="638.9000000000001" y="546.6" style="font-family:'Liberation Sans',sans-serif;font-weight:bold;letter-spacing:1.4px;font-size:8.6px" text-anchor="middle" fill="#000"  stroke="#000" stroke-width="0.3">-</text>
<text x="638.9000000000001" y="560.0" style="font-family:'Liberation Sans',sans-serif;font-weight:bold;letter-spacing:1.4px;font-size:8.6px" text-anchor="middle" fill="#000"  stroke="#000" stroke-width="0.3">+</text>
<line x1="218.6" y1="564.4" x2="295.6" y2="564.4" stroke="#000" stroke-width="2.6"/>
<line x1="310.1" y1="564.4" x2="386.5" y2="564.4" stroke="#000" stroke-width="2.6"/>
<line x1="397.9" y1="564.4" x2="474.5" y2="564.4" stroke="#000" stroke-width="2.6"/>
<line x1="488.8" y1="564.4" x2="565.4" y2="564.4" stroke="#000" stroke-width="2.6"/>
<line x1="578.7" y1="564.4" x2="655.3" y2="564.4" stroke="#000" stroke-width="2.6"/>
<text x="258.0" y="578.0" style="font-family:'Liberation Sans',sans-serif;font-weight:bold;letter-spacing:1.4px;font-size:8.4px" text-anchor="middle" textLength="28.9" lengthAdjust="spacingAndGlyphs" fill="#000"  stroke="#000" stroke-width="0.3">Total</text>
<text x="256.2" y="591.9" style="font-family:'Liberation Sans',sans-serif;font-weight:bold;letter-spacing:1.4px;font-size:8.4px" text-anchor="middle" textLength="35.4" lengthAdjust="spacingAndGlyphs" fill="#000"  stroke="#000" stroke-width="0.3">PBMC</text>
<text x="350.6" y="578.0" style="font-family:'Liberation Sans',sans-serif;font-weight:bold;letter-spacing:1.4px;font-size:8.4px" text-anchor="middle" textLength="40.7" lengthAdjust="spacingAndGlyphs" fill="#000"  stroke="#000" stroke-width="0.3">PD-L1-</text>
<text x="349.9" y="592.0" style="font-family:'Liberation Sans',sans-serif;font-weight:bold;letter-spacing:1.4px;font-size:8.4px" text-anchor="middle" textLength="39.2" lengthAdjust="spacingAndGlyphs" fill="#000"  stroke="#000" stroke-width="0.3">Sorted</text>
<text x="349.9" y="605.8" style="font-family:'Liberation Sans',sans-serif;font-weight:bold;letter-spacing:1.4px;font-size:8.4px" text-anchor="middle" textLength="34.8" lengthAdjust="spacingAndGlyphs" fill="#000"  stroke="#000" stroke-width="0.3">PBMC</text>
<text x="433.5" y="578.1" style="font-family:'Liberation Sans',sans-serif;font-weight:bold;letter-spacing:1.4px;font-size:8.4px" text-anchor="middle" textLength="43.9" lengthAdjust="spacingAndGlyphs" fill="#000"  stroke="#000" stroke-width="0.3">PD-L1+</text>
<text x="433.1" y="591.0" style="font-family:'Liberation Sans',sans-serif;font-weight:bold;letter-spacing:1.4px;font-size:8.4px" text-anchor="middle" textLength="38.9" lengthAdjust="spacingAndGlyphs" fill="#000"  stroke="#000" stroke-width="0.3">Sorted</text>
<text x="433.2" y="605.5" style="font-family:'Liberation Sans',sans-serif;font-weight:bold;letter-spacing:1.4px;font-size:8.4px" text-anchor="middle" textLength="33.8" lengthAdjust="spacingAndGlyphs" fill="#000"  stroke="#000" stroke-width="0.3">PBMC</text>
<text x="525.4" y="578.0" style="font-family:'Liberation Sans',sans-serif;font-weight:bold;letter-spacing:1.4px;font-size:8.4px" text-anchor="middle" textLength="29.2" lengthAdjust="spacingAndGlyphs" fill="#000"  stroke="#000" stroke-width="0.3">H460</text>
<text x="526.0" y="591.5" style="font-family:'Liberation Sans',sans-serif;font-weight:bold;letter-spacing:1.4px;font-size:8.4px" text-anchor="middle" textLength="68.8" lengthAdjust="spacingAndGlyphs" fill="#000"  stroke="#000" stroke-width="0.3">Tumor Cells</text>
<text x="617.0" y="578.0" style="font-family:'Liberation Sans',sans-serif;font-weight:bold;letter-spacing:1.4px;font-size:8.4px" text-anchor="middle" textLength="27.7" lengthAdjust="spacingAndGlyphs" fill="#000"  stroke="#000" stroke-width="0.3">H441</text>
<text x="616.8" y="591.5" style="font-family:'Liberation Sans',sans-serif;font-weight:bold;letter-spacing:1.4px;font-size:8.4px" text-anchor="middle" textLength="69.1" lengthAdjust="spacingAndGlyphs" fill="#000"  stroke="#000" stroke-width="0.3">Tumor Cells</text>
<text x="175.0" y="660.2" style="font-family:'Liberation Serif',serif;font-weight:bold;font-size:20.5px" text-anchor="start" textLength="16.2" lengthAdjust="spacingAndGlyphs" fill="#000" >D</text>
<line x1="207.0" y1="663.8" x2="611.2" y2="663.8" stroke="#000" stroke-width="1.9"/>
<line x1="207.0" y1="662.9" x2="207.0" y2="856.8" stroke="#000" stroke-width="1.9"/>
<line x1="611.2" y1="662.9" x2="611.2" y2="856.8" stroke="#000" stroke-width="1.9"/>
<line x1="207.0" y1="855.8" x2="611.2" y2="855.8" stroke="#000" stroke-width="2.2"/>
<line x1="461.6" y1="663.8" x2="461.6" y2="855.8" stroke="#000" stroke-width="1.6"/>
<line x1="207.0" y1="716.2" x2="611.2" y2="716.2" stroke="#000" stroke-width="1.8"/>
<line x1="207.0" y1="799.4" x2="611.2" y2="799.4" stroke="#000" stroke-width="1.8"/>
<line x1="286.9" y1="716.2" x2="286.9" y2="799.4" stroke="#000" stroke-width="1.5"/>
<line x1="287.0" y1="743.6" x2="461.6" y2="743.6" stroke="#000" stroke-width="1.5"/>
<line x1="287.0" y1="770.7" x2="461.6" y2="770.7" stroke="#000" stroke-width="1.5"/>
<text x="303.5" y="710.0" style="font-family:'Liberation Sans',sans-serif;font-weight:normal;font-size:17.5px" text-anchor="start" textLength="61.7" lengthAdjust="spacingAndGlyphs" fill="#000" stroke="#000" stroke-width="0.3">Sample</text>
<text x="498.3" y="685.3" style="font-family:'Liberation Sans',sans-serif;font-weight:normal;font-size:17.5px" text-anchor="start" textLength="14.1" lengthAdjust="spacingAndGlyphs" fill="#000" stroke="#000" stroke-width="0.3">%</text>
<text x="474.7" y="710.7" style="font-family:'Liberation Sans',sans-serif;font-weight:normal;font-size:17.5px" text-anchor="start" textLength="65.5" lengthAdjust="spacingAndGlyphs" fill="#000" stroke="#000" stroke-width="0.3">Positive</text>
<text x="563.0" y="710.7" style="font-family:'Liberation Sans',sans-serif;font-weight:normal;font-size:17.5px" text-anchor="start" textLength="33.0" lengthAdjust="spacingAndGlyphs" fill="#000" stroke="#000" stroke-width="0.3">MFI</text>
<text x="216.5" y="753.4" style="font-family:'Liberation Sans',sans-serif;font-weight:normal;font-size:17.5px" text-anchor="start" textLength="60.8" lengthAdjust="spacingAndGlyphs" fill="#000" stroke="#000" stroke-width="0.3">PD-L1+</text>
<text x="218.0" y="778.0" style="font-family:'Liberation Sans',sans-serif;font-weight:normal;font-size:17.5px" text-anchor="start" textLength="57.0" lengthAdjust="spacingAndGlyphs" fill="#000" stroke="#000" stroke-width="0.3">Sorted</text>
<text x="299.3" y="738.1" style="font-family:'Liberation Sans',sans-serif;font-weight:normal;font-size:17.5px" text-anchor="start" textLength="149.5" lengthAdjust="spacingAndGlyphs" fill="#000" stroke="#000" stroke-width="0.3">Cancer Patient #1</text>
<text x="486.8" y="738.1" style="font-family:'Liberation Sans',sans-serif;font-weight:normal;font-size:17.5px" text-anchor="start" textLength="37.0" lengthAdjust="spacingAndGlyphs" fill="#000" stroke="#000" stroke-width="0.3">74.1</text>
<text x="555.7" y="738.1" style="font-family:'Liberation Sans',sans-serif;font-weight:normal;font-size:17.5px" text-anchor="start" textLength="47.3" lengthAdjust="spacingAndGlyphs" fill="#000" stroke="#000" stroke-width="0.3">1,084</text>
<text x="299.3" y="765.8000000000001" style="font-family:'Liberation Sans',sans-serif;font-weight:normal;font-size:17.5px" text-anchor="start" textLength="149.5" lengthAdjust="spacingAndGlyphs" fill="#000" stroke="#000" stroke-width="0.3">Cancer Patient #2</text>
<text x="486.8" y="765.8000000000001" style="font-family:'Liberation Sans',sans-serif;font-weight:normal;font-size:17.5px" text-anchor="start" textLength="37.0" lengthAdjust="spacingAndGlyphs" fill="#000" stroke="#000" stroke-width="0.3">78.9</text>
<text x="555.7" y="765.8000000000001" style="font-family:'Liberation Sans',sans-serif;font-weight:normal;font-size:17.5px" text-anchor="start" textLength="47.3" lengthAdjust="spacingAndGlyphs" fill="#000" stroke="#000" stroke-width="0.3">1,170</text>
<text x="299.3" y="793.5" style="font-family:'Liberation Sans',sans-serif;font-weight:normal;font-size:17.5px" text-anchor="start" textLength="149.5" lengthAdjust="spacingAndGlyphs" fill="#000" stroke="#000" stroke-width="0.3">Cancer Patient #3</text>
<text x="486.8" y="793.5" style="font-family:'Liberation Sans',sans-serif;font-weight:normal;font-size:17.5px" text-anchor="start" textLength="37.0" lengthAdjust="spacingAndGlyphs" fill="#000" stroke="#000" stroke-width="0.3">75.4</text>
<text x="555.7" y="793.5" style="font-family:'Liberation Sans',sans-serif;font-weight:normal;font-size:17.5px" text-anchor="start" textLength="47.3" lengthAdjust="spacingAndGlyphs" fill="#000" stroke="#000" stroke-width="0.3">1,399</text>
<text x="312.3" y="821.4" style="font-family:'Liberation Sans',sans-serif;font-weight:normal;font-size:17.5px" text-anchor="start" textLength="44.2" lengthAdjust="spacingAndGlyphs" fill="#000" stroke="#000" stroke-width="0.3">H460</text>
<text x="486.8" y="821.4" style="font-family:'Liberation Sans',sans-serif;font-weight:normal;font-size:17.5px" text-anchor="start" textLength="37.0" lengthAdjust="spacingAndGlyphs" fill="#000" stroke="#000" stroke-width="0.3">75.7</text>
<text x="555.7" y="821.4" style="font-family:'Liberation Sans',sans-serif;font-weight:normal;font-size:17.5px" text-anchor="start" textLength="47.3" lengthAdjust="spacingAndGlyphs" fill="#000" stroke="#000" stroke-width="0.3">1,385</text>
<text x="312.3" y="849.1" style="font-family:'Liberation Sans',sans-serif;font-weight:normal;font-size:17.5px" text-anchor="start" textLength="43.2" lengthAdjust="spacingAndGlyphs" fill="#000" stroke="#000" stroke-width="0.3">H441</text>
<text x="486.8" y="849.1" style="font-family:'Liberation Sans',sans-serif;font-weight:normal;font-size:17.5px" text-anchor="start" textLength="37.0" lengthAdjust="spacingAndGlyphs" fill="#000" stroke="#000" stroke-width="0.3">99.7</text>
<text x="555.7" y="849.1" style="font-family:'Liberation Sans',sans-serif;font-weight:normal;font-size:17.5px" text-anchor="start" textLength="47.3" lengthAdjust="spacingAndGlyphs" fill="#000" stroke="#000" stroke-width="0.3">3,830</text>
</svg></body></html>
